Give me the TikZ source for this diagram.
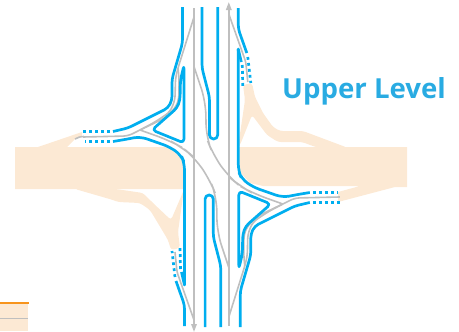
\documentclass[tikz,border=0pt]{standalone}
\usepackage{fontspec}
\setmainfont{Open Sans}
\usetikzlibrary{arrows.meta}
\definecolor{bluel}{HTML}{00AEEF}
\definecolor{grayl}{HTML}{BFBFBF}
\definecolor{beige}{HTML}{FCE9D4}
\definecolor{orangel}{HTML}{F7941D}
\definecolor{titleb}{HTML}{29ABE2}
\tikzset{
  bl/.style={draw=bluel,line width=2.7pt,rounded corners=4pt,line join=round},
  bdot/.style={draw=bluel,line width=2.7pt,dash pattern=on 2.8pt off 3.2pt},
  gr/.style={draw=grayl,line width=1.6pt,rounded corners=5pt},
  bg/.style={fill=beige,draw=none},
}
\newcommand{\halfgray}{%
  \draw[gr] (83,137)--(128,136)--(140,130)--(155,122)--(170,112)--(175,100)--(175.5,78)--(178,68)--(194,17);
  \draw[gr] (140,130)--(165,118)--(176,107)--(179,98)--(179,78)--(178,68);
  \draw[gr,rounded corners=14pt] (140,130)--(170,140.7)--(183,148)--(195,158)--(210,180)--(216.7,197)--(217,232)--(229,268);
  \draw[gr,rounded corners=3pt] (194,320)--(177,272)--(175,252);
  \draw[draw=grayl,line width=1.6pt,-{Triangle[length=8pt,width=5.5pt]}] (194,8)--(194,332);
}
\newcommand{\halfblue}{%
  \draw[bl] (182.5,7)--(182.5,43)--(172,79)--(172,100)--(168,108)--(128,128)--(113,131.5);
  \draw[bdot] (110,131.5)--(82,131.5);
  \draw[bl] (184,65)--(180.5,80)--(180,100)--(177,108)--(152,130)--(184,143)--cycle;
  \draw[bl,rounded corners=7pt] (113,141.5)--(128,139)--(140,136.5)--(170,147)--(181,155)--(184.5,163)--(184.5,285);
  \draw[bl,rounded corners=0pt] (184.5,283)--(184.5,285)--(181.5,272);
  \draw[bdot] (110,141.5)--(85,141.5);
  \draw[bdot] (180.5,269)--(180,247);
  \draw[bl] (176,281)--(184.5,305)--(184.5,326);
  \draw[bdot] (175,277)--(172,251);
  \draw[bl] (202,7)--(202,68)--(209.5,97)--(209.5,139)--(217.7,139)--(217.7,7);
}
\begin{document}
\begin{tikzpicture}[x=1pt,y=-1pt]
\useasboundingbox (0,0) rectangle (459,332);
% beige
\fill[bg] (15,147)--(38,147)--(82,132)--(82,137)--(75,139)--(67,147)--(170,147)--(184,162)--(184,189)--(15,189)--cycle;
\fill[bg] (238,147)--(407,147)--(407,187)--(395,187)--(338,202)--(338,192)--(360,186)--(263,186)--(250,183)--(238,170)--cycle;
\fill[bg,rounded corners=3pt] (75,189)--(113,200)--(118,202)--(140,203)--(150,210)--(162,230)--(168,240)--(171,250)--(180,248)--(178,232)--(184,189)--(183,192)--(171,220)--(153,203)--(143,193)--(116,189)--cycle;
\fill[bg,rounded corners=3pt] (347,147.5)--(303,131)--(280,131)--(273,127)--(263,113)--(255,97)--(252,83)--(243,85)--(245,100)--(238,147.5)--(240,145)--(252,115)--(267,135)--(278,142)--(302,142)--(317,147.5)--cycle;
% legend
\fill[bg] (0,303)rectangle(28,331);
\draw[draw=grayl,line width=1.5pt] (0,318.5)--(28,318.5);
\draw[draw=orangel,line width=2pt] (0,303)--(29,303);
% roads
\halfgray
\begin{scope}[rotate around={180:(211.4,167)}]\halfgray\end{scope}
\draw[gr,rounded corners=1pt] (84,136.5)--(80,136.8)--(75,139);
\halfblue
\begin{scope}[rotate around={180:(211.4,167)}]\halfblue\end{scope}
\node[text=titleb,font=\bfseries\fontsize{27.6}{28}\selectfont,inner sep=0pt] (title) at (364,91) {Upper Level};
\end{tikzpicture}
\end{document}
